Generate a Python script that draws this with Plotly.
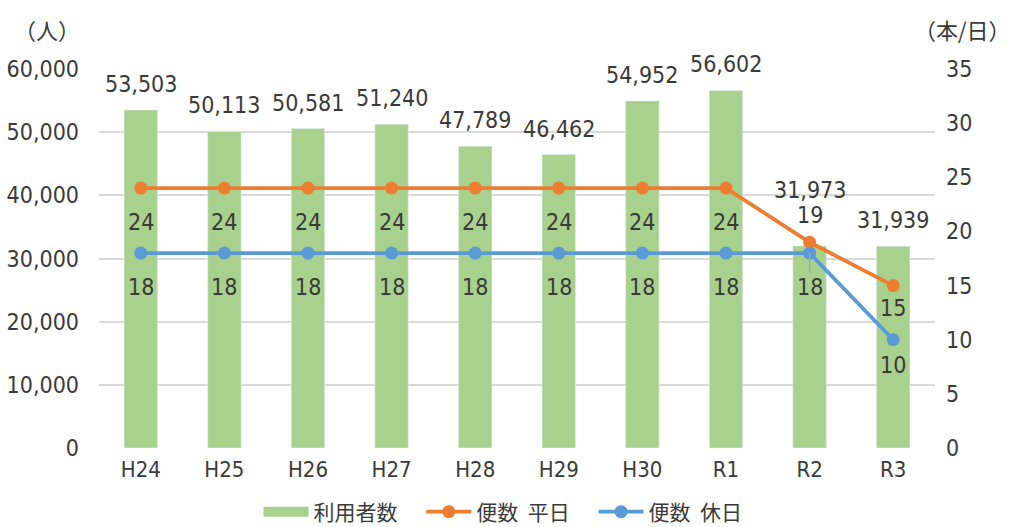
import plotly.graph_objects as go

categories = ["H24", "H25", "H26", "H27", "H28", "H29", "H30", "R1", "R2", "R3"]
users = [53503, 50113, 50581, 51240, 47789, 46462, 54952, 56602, 31973, 31939]
weekday = [24, 24, 24, 24, 24, 24, 24, 24, 19, 15]
holiday = [18, 18, 18, 18, 18, 18, 18, 18, 18, 10]

# label offsets (pixels)
users_shift = [26, 26, 26, 26, 26, 26, 26, 26, 56, 26]
weekday_shift = [-34, -34, -34, -34, -34, -34, -34, -34, 27, -22]
holiday_shift = [-34, -34, -34, -34, -34, -34, -34, -34, -34, -25]
holiday_leader = [False] * 8 + [True, False]

FONT = "Liberation Sans Narrow, DejaVu Sans Condensed, Noto Sans CJK JP, sans-serif"
CJK = "Noto Sans CJK JP, sans-serif"
TXT = "#3A3A3A"
GREEN = "#A9D18E"
ORANGE = "#ED7D31"
BLUE = "#5B9BD5"
NB = "\u00a0"

W, H = 1013, 527
L, R, T, B = 99, 78, 69, 79
pw, ph = W - L - R, H - T - B


def px_to_paper(px, py):
    return (px - L) / pw, (H - B - py) / ph


fig = go.Figure()
fig.add_trace(go.Bar(x=categories, y=users, name="利用者数", marker_color=GREEN,
                     yaxis="y", showlegend=False))
# legend swatch for bars (wide rectangle like the reference)
fig.add_trace(go.Scatter(x=[None], y=[None], name="利用者数" + NB * 4, mode="lines",
                         line=dict(color=GREEN, width=12), yaxis="y"))
fig.add_trace(go.Scatter(x=categories, y=weekday, name="便数" + NB * 2 + "平日" + NB * 4,
                         mode="lines+markers",
                         line=dict(color=ORANGE, width=3.8),
                         marker=dict(size=13, color=ORANGE), yaxis="y2"))
fig.add_trace(go.Scatter(x=categories, y=holiday, name="便数" + NB * 2 + "休日",
                         mode="lines+markers",
                         line=dict(color=BLUE, width=3.8),
                         marker=dict(size=13, color=BLUE), yaxis="y2"))

ann = []
for c, v, s in zip(categories, users, users_shift):
    ann.append(dict(x=c, y=v, xref="x", yref="y", text=f"{v:,}", showarrow=False,
                    yshift=s, font=dict(family=FONT, size=23, color=TXT)))
for c, v, s in zip(categories, weekday, weekday_shift):
    ann.append(dict(x=c, y=v, xref="x", yref="y2", text=str(v), showarrow=False,
                    yshift=s, font=dict(family=FONT, size=23, color=TXT)))
for c, v, s, ld in zip(categories, holiday, holiday_shift, holiday_leader):
    if ld:
        ann.append(dict(x=c, y=v, xref="x", yref="y2", text=str(v), showarrow=True,
                        ax=0, ay=-s, arrowhead=0, arrowwidth=1.5, arrowcolor="#A6A6A6",
                        standoff=0, font=dict(family=FONT, size=23, color=TXT)))
    else:
        ann.append(dict(x=c, y=v, xref="x", yref="y2", text=str(v), showarrow=False,
                        yshift=s, font=dict(family=FONT, size=23, color=TXT)))
ax, ay = px_to_paper(47, 29)
ann.append(dict(x=ax, y=ay, xref="paper", yref="paper", text="（人）", showarrow=False,
                xanchor="center", yanchor="middle",
                font=dict(family=CJK, size=22, color=TXT)))
bx, by = px_to_paper(962, 29)
ann.append(dict(x=bx, y=by, xref="paper", yref="paper", text="（本/日）", showarrow=False,
                xanchor="center", yanchor="middle",
                font=dict(family=CJK, size=22, color=TXT)))

lx, ly = px_to_paper(503, 512)

fig.update_layout(
    width=W, height=H,
    margin=dict(l=L, r=R, t=T, b=B, autoexpand=False),
    paper_bgcolor="white", plot_bgcolor="white",
    bargap=0.6,
    font=dict(family=FONT, size=23, color=TXT),
    xaxis=dict(range=[-0.5, len(categories) - 0.5], showgrid=False, showline=False,
               ticks="", tickfont=dict(size=22), ticklabelstandoff=6, automargin=False),
    yaxis=dict(range=[0, 60000], dtick=10000, tickformat=",", gridcolor="#D9D9D9",
               gridwidth=1.5, zeroline=False, showline=False, ticks="",
               ticklabelstandoff=19, tickfont=dict(size=23), automargin=False),
    yaxis2=dict(range=[0, 35], dtick=5, overlaying="y", side="right", showgrid=False,
                zeroline=False, showline=False, ticks="", ticklabelstandoff=10,
                tickfont=dict(size=23), automargin=False),
    legend=dict(orientation="h", x=lx, xanchor="center", y=ly, yanchor="middle",
                font=dict(family=CJK, size=21, color=TXT), itemwidth=45,
                tracegroupgap=0),
    annotations=ann,
    showlegend=True,
)

fig.write_html(
    "out.html",
    config={"displayModeBar": False},
    post_script="document.body.style.margin='0';document.body.style.overflow='hidden';",
)
